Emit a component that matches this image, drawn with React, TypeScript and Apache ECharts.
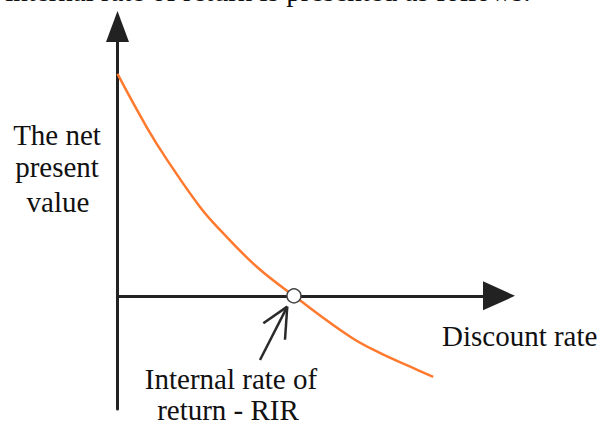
import React, { useEffect, useRef } from "react";
import * as echarts from "echarts";

// Discount rate (%) and net present value
const discountRates = [0, 3.1, 5.2, 8.65, 10.75, 14.6, 18.5, 24.4, 27.5, 30.7, 33.1];
const netPresentValues = [82.4, 62.4, 50.5, 33.0, 24.5, 10.8, 0, -15.2, -21.2, -26.3, -30.1];
// Internal rate of return (the curve crosses zero here)
const irrPoint = [18.5, 0];
// Pointer arrow annotation (data coordinates): shaft start, tip, and two arm ends
const pointerTail = [14.94, -23.8];
const pointerTip = [17.8, -4.0];
const pointerArmLeft = [15.29, -10.2];
const pointerArmRight = [17.56, -16.3];

const yAxisTitle = ["The net", "present", "value"];
const xAxisTitle = "Discount rate";
const irrLabel = ["Internal rate of", "return - RIR"];
const headerText = "internal rate of return is presented as follows:";

const FONT = "29px 'Liberation Serif', 'Times New Roman', serif";

export default function App() {
  const ref = useRef<HTMLDivElement>(null);
  useEffect(() => {
    if (!ref.current) return;
    const chart = echarts.init(ref.current, null, { renderer: "svg" });
    const lineData = discountRates.map((r, i) => [r, netPresentValues[i]]);
    const axisColor = "#222";
    const textStyle = (x: number, y: number, text: string, align: string) => ({
      type: "text",
      x,
      y,
      style: {
        text,
        font: FONT,
        fill: "#111",
        textAlign: align,
        textVerticalAlign: "middle",
      },
      z: 10,
    });
    chart.setOption({
      animation: false,
      backgroundColor: "#fff",
      grid: { left: 117.5, right: 99, top: 26.5, bottom: 16, containLabel: false },
      xAxis: {
        type: "value",
        min: 0,
        max: 40,
        axisLine: {
          show: true,
          onZero: true,
          symbol: ["none", "triangle"],
          symbolSize: [29, 32],
          lineStyle: { color: axisColor, width: 3 },
        },
        axisTick: { show: false },
        axisLabel: { show: false },
        splitLine: { show: false },
      },
      yAxis: {
        type: "value",
        min: -42,
        max: 100,
        axisLine: {
          show: true,
          onZero: true,
          symbol: ["none", "triangle"],
          symbolSize: [23, 31],
          lineStyle: { color: axisColor, width: 3 },
        },
        axisTick: { show: false },
        axisLabel: { show: false },
        splitLine: { show: false },
      },
      series: [
        {
          type: "line",
          data: lineData,
          smooth: 0.4,
          showSymbol: false,
          lineStyle: { color: "#ff7a2e", width: 2.5 },
          z: 2,
        },
        {
          type: "scatter",
          data: [irrPoint],
          symbol: "circle",
          symbolSize: 14,
          itemStyle: { color: "#fff", borderColor: "#444", borderWidth: 1.5, opacity: 1 },
          z: 5,
          markLine: {
            silent: true,
            symbol: "none",
            label: { show: false },
            lineStyle: { color: "#2a2a2a", width: 2.5, type: "solid" },
            data: [
              [{ coord: pointerTail }, { coord: pointerTip }],
              [{ coord: pointerTip }, { coord: pointerArmLeft }],
              [{ coord: pointerTip }, { coord: pointerArmRight }],
            ],
          },
        },
      ],
      graphic: [
        textStyle(531, -9, headerText, "right"),
        textStyle(57, 135, yAxisTitle[0], "center"),
        textStyle(57, 167, yAxisTitle[1], "center"),
        textStyle(58, 202, yAxisTitle[2], "center"),
        textStyle(442, 336, xAxisTitle, "left"),
        textStyle(231, 379, irrLabel[0], "center"),
        textStyle(228, 410, irrLabel[1], "center"),
      ],
    });
    return () => chart.dispose();
  }, []);
  return <div ref={ref} style={{ width: 598, height: 425, position: "absolute", left: 0, top: 0 }} />;
}
